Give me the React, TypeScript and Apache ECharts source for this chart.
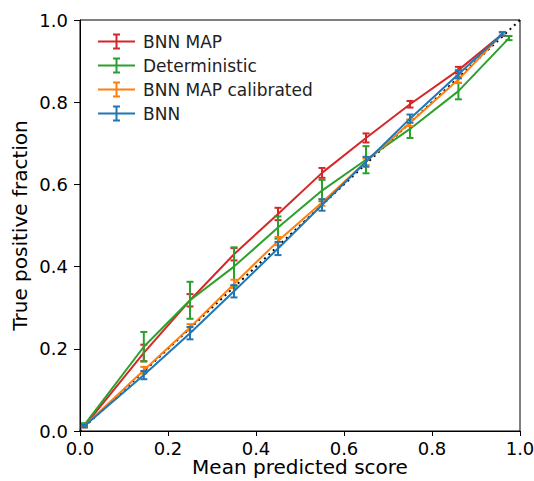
import React, { useEffect, useRef } from "react";
import * as echarts from "echarts";

const seriesNames = ["BNN MAP", "Deterministic", "BNN MAP calibrated", "BNN"];
const colors = ["#d62728", "#2ca02c", "#ff7f0e", "#1f77b4"];

const binCenters = [0.01, 0.145, 0.25, 0.35, 0.45, 0.55, 0.65, 0.75, 0.86, 0.96];
const detCenters = [0.01, 0.145, 0.25, 0.35, 0.45, 0.55, 0.65, 0.75, 0.86, 0.975];

const bnnMapY = [0.012, 0.19, 0.318, 0.43, 0.528, 0.628, 0.713, 0.795, 0.878, 0.966];
const bnnMapErr = [0.003, 0.02, 0.015, 0.015, 0.015, 0.012, 0.011, 0.008, 0.008, 0.005];

const detY = [0.015, 0.205, 0.318, 0.40, 0.495, 0.585, 0.66, 0.735, 0.827, 0.956];
const detErr = [0.004, 0.036, 0.045, 0.047, 0.027, 0.026, 0.033, 0.022, 0.02, 0.005];

const calY = [0.012, 0.148, 0.252, 0.358, 0.462, 0.556, 0.655, 0.75, 0.855, 0.966];
const calErr = [0.003, 0.008, 0.008, 0.01, 0.01, 0.008, 0.008, 0.008, 0.008, 0.004];

const bnnY = [0.012, 0.136, 0.238, 0.34, 0.444, 0.55, 0.655, 0.76, 0.868, 0.966];
const bnnErr = [0.003, 0.01, 0.015, 0.015, 0.016, 0.014, 0.012, 0.01, 0.01, 0.004];

const diagonal = [
  [0, 0],
  [1, 1],
];

const font = "DejaVu Sans";

export default function App() {
  const ref = useRef<HTMLDivElement>(null);
  useEffect(() => {
    document.body.style.margin = "0";
    if (!ref.current) return;
    const chart = echarts.init(ref.current, undefined, { renderer: "svg" });

    const xsList = [binCenters, detCenters, binCenters, binCenters];
    const ysList = [bnnMapY, detY, calY, bnnY];
    const errList = [bnnMapErr, detErr, calErr, bnnErr];

    const series: any[] = [
      {
        type: "line",
        name: "diag",
        data: diagonal,
        symbol: "none",
        lineStyle: { color: "#000", width: 2, type: [2, 4] },
        z: 1,
        silent: true,
      },
    ];

    seriesNames.forEach((name, i) => {
      const xs = xsList[i];
      const ys = ysList[i];
      const es = errList[i];
      const color = colors[i];
      series.push({
        type: "line",
        name,
        data: xs.map((x, k) => [x, ys[k]]),
        symbol: "none",
        lineStyle: { color, width: 2 },
        itemStyle: { color },
        z: 2 + i,
      });
      series.push({
        type: "custom",
        name,
        data: xs.map((x, k) => [x, ys[k], es[k]]),
        encode: { x: 0, y: 1 },
        itemStyle: { color },
        z: 2 + i,
        renderItem: (params: any, api: any) => {
          const x = api.value(0);
          const y = api.value(1);
          const e = api.value(2);
          const top = api.coord([x, y + e]);
          const bot = api.coord([x, y - e]);
          const hw = 3.5;
          const st = { stroke: color, lineWidth: 2 };
          return {
            type: "group",
            children: [
              { type: "line", shape: { x1: top[0], y1: top[1], x2: bot[0], y2: bot[1] }, style: st },
              { type: "line", shape: { x1: top[0] - hw, y1: top[1], x2: top[0] + hw, y2: top[1] }, style: st },
              { type: "line", shape: { x1: bot[0] - hw, y1: bot[1], x2: bot[0] + hw, y2: bot[1] }, style: st },
            ],
          };
        },
      });
    });

    const icon =
      "path://M0,7 h37 v2 h-37 z M17.5,0 h2 v16 h-2 z M15,0 h7 v2 h-7 z M15,14 h7 v2 h-7 z";

    chart.setOption({
      animation: false,
      grid: {
        left: 80,
        right: 14,
        top: 20,
        bottom: 50,
        show: true,
        borderColor: "#000",
        borderWidth: 1,
        containLabel: false,
        outerBoundsMode: "none",
      },
      legend: {
        orient: "vertical",
        left: 93,
        top: 28,
        itemWidth: 37,
        itemHeight: 16,
        itemGap: 7,
        data: seriesNames.map((n) => ({ name: n, icon })),
        textStyle: {
          fontFamily: font,
          fontSize: 17,
          lineHeight: 16,
          color: "#222",
          padding: [0, 0, 0, 3],
        },
      },
      xAxis: {
        type: "value",
        min: 0,
        max: 1,
        interval: 0.2,
        name: "Mean predicted score",
        nameLocation: "middle",
        nameGap: 26,
        nameMoveOverlap: false,
        nameTextStyle: { fontFamily: font, fontSize: 20, lineHeight: 20, color: "#000" },
        axisLine: { show: true, lineStyle: { color: "#000", width: 1 } },
        axisTick: { show: true, length: 5, lineStyle: { color: "#000" } },
        axisLabel: {
          fontFamily: font,
          fontSize: 18,
          color: "#000",
          margin: 8,
          formatter: (v: number) => v.toFixed(1),
        },
        splitLine: { show: false },
      },
      yAxis: {
        type: "value",
        min: 0,
        max: 1,
        interval: 0.2,
        name: "True positive fraction",
        nameLocation: "middle",
        nameGap: 50,
        nameRotate: 90,
        nameMoveOverlap: false,
        nameTextStyle: { fontFamily: font, fontSize: 20, color: "#000" },
        axisLine: { show: true, lineStyle: { color: "#000", width: 1 } },
        axisTick: { show: true, length: 6, lineStyle: { color: "#000" } },
        axisLabel: {
          fontFamily: font,
          fontSize: 18,
          color: "#000",
          margin: 12,
          formatter: (v: number) => v.toFixed(1),
        },
        splitLine: { show: false },
      },
      series,
    });
    return () => chart.dispose();
  }, []);
  return <div ref={ref} style={{ width: 534, height: 481 }} />;
}
